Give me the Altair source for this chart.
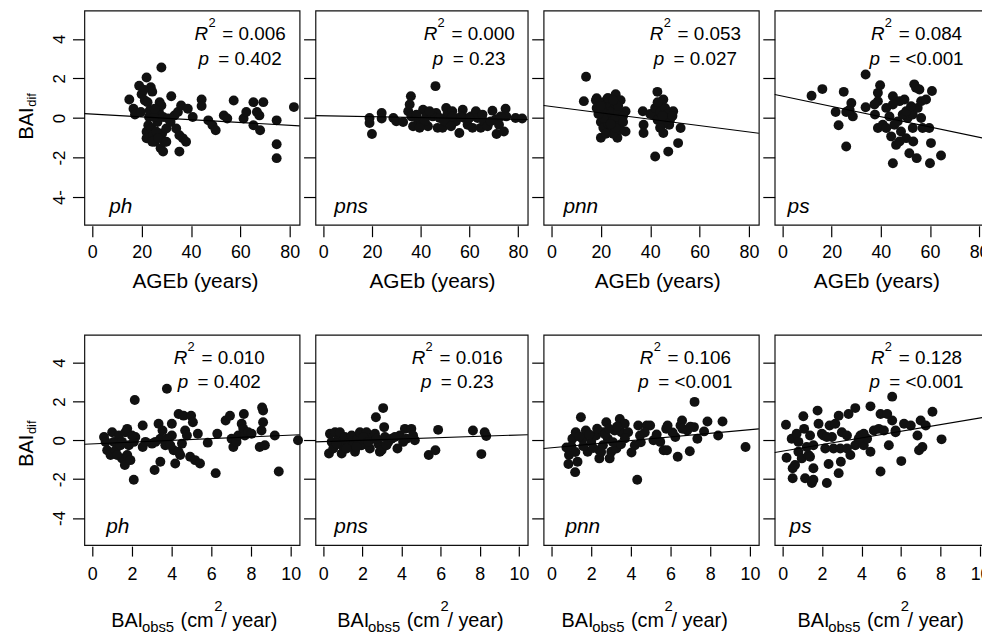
import altair as alt
import pandas as pd

FONT = "Liberation Sans"

# ---------------- values ----------------
species = ["ph", "pns", "pnn", "ps"]

# Row 1: BAIdif vs AGEb (years)
age_ph_x = [15, 16.7, 17.3, 19, 20, 22, 21.3, 22.4, 23.7, 24.3, 23, 22, 22, 22.7, 24, 24.7, 25.3, 26.4, 27, 27.3,
            28, 28, 28.7, 28.3, 27.7, 28.7, 29.3, 30, 30.7, 31.7, 32, 33.3, 34, 34.7, 35.3, 36, 36.7, 35.3, 38, 38.7,
            40.7, 44.3, 44.3, 47, 48.7, 50, 53.3, 54.7, 57.3, 61.3, 62.4, 65.3, 65.3, 66.7, 67.7, 68, 69.3, 74.7, 74.7, 74.7,
            81.7, 23.3, 25, 26, 24.3, 26.7, 25.3, 20.8, 19.7, 30]
age_ph_y = [0.93, 0.47, 0.17, 1.63, 1.2, 2.05, 0.88, 0.8, 1.55, 1.33, 0.05, -0.7, -1.03, -0.37, -0.53, -0.87, -1.2, -0.2, 0.3, 0.8,
            2.55, 0.63, 0.05, -0.78, -1.53, -1.7, -1.2, -0.53, -0.03, -0.2, 1.1, 0.13, -0.53, 0.3, -0.87, 0.63, -1.03, -1.7, -1.2, 0.47,
            0.05, 0.93, 0.6, -0.12, -0.37, -0.62, 0.13, -0.03, 0.88, -0.03, 0.3, 0.8, -0.37, 0.3, 0.13, -0.62, 0.8, -0.12, -1.33, -2.03,
            0.55, 0.38, 0.05, -0.7, -1.2, -1.03, 0.47, 1.43, 0.3, -1.2]

age_pns_x = [19, 19, 20, 24, 24, 28.8, 30, 32.8, 34.9, 36, 35.5, 36.2, 36.9, 38.9, 40.3, 41, 42.3, 43, 46.1, 46.4,
             45, 47, 49, 50.5, 51, 52, 53, 54.5, 55.9, 57.3, 58, 59.3, 60.7, 62.7, 63.4, 64.7, 66, 67.5, 69.5, 70.8,
             71.2, 72.2, 74.2, 74.9, 75.2, 79, 81.7, 38.3, 41.7, 47.8, 49.8, 52.5, 60, 61.3, 65.4, 68.8, 72.9, 39.6, 43.7, 53.2,
             56.6]
age_pns_y = [0, -0.25, -0.81, 0.25, -0.03, 0, -0.17, -0.2, 0.34, 1.1, 0.68, 0.08, -0.42, -0.08, -0.34, 0.42, 0.08, -0.42, 1.61, 0.25,
             0.08, -0.5, -0.5, 0.5, 0.17, -0.08, 0.34, -0.17, -0.76, 0.42, 0, -0.34, 0.08, 0.34, 0, -0.5, -0.17, -0.42, 0.37, -0.08,
             -0.81, -0.34, -0.68, 0.47, 0.08, 0, -0.03, 0.17, -0.17, 0, -0.17, -0.42, 0, -0.5, 0.17, -0.17, 0.08, -0.5, 0.34, 0.08,
             0.08]

age_pnn_x = [14, 13.1, 18.3, 18.3, 20, 22.7, 26, 26.7, 30, 30, 37, 37.3, 37.3, 41.3, 42.9, 42, 44, 44.7, 45.3, 45.3,
             46.7, 47.3, 47.7, 49.3, 51.3, 52.3,
             18, 19, 20, 20, 21, 21, 22, 22, 23, 23, 24, 24, 24, 25, 25, 25, 26, 26, 27, 27,
             28, 28, 29, 29, 22, 23, 21, 19, 26, 27, 24, 20, 25,
             40, 42, 43, 44, 45, 46, 46, 47, 48, 44, 43, 49, 45]
age_pnn_y = [2.08, 0.85, 1.0, 0.5, -1.0, 1.0, 1.2, -1.0, 0.34, -0.68, 0.34, -0.34, -0.76, 0.17, 1.32, -1.95, 0.68, 0.08, 0.93, -0.76,
             0.34, -1.7, -0.34, 0.34, -1.27, -0.51,
             0.9, 0.6, 0.3, -0.2, 0.8, -0.5, 0.1, 0.5, -0.3, 0.9, -0.7, 0.2, 0.6, -0.1, 0.4, -0.8, 0.7, 0, -0.4, 0.3,
             0.9, -0.6, 0.1, -0.2, -0.8, 1.0, 0.0, 0.2, -0.5, 0.6, -0.3, 0.6, 0.9,
             0.2, 0.5, -0.1, 0.3, -0.3, 0.5, 0.0, 0.2, -0.1, -0.5, 0.8, 0.1, 0.1]

age_ps_x = [11.8, 16.2, 24.9, 22.8, 21.6, 25.9, 25.9, 28, 28.6, 27.3, 33.8, 33.8, 37.6, 38.8, 38.8, 39.7, 38.8, 40.8, 42.2, 43.5,
            44.9, 44.2, 44.9, 46.2, 46.9, 47.6, 48.2, 49.6, 50.3, 50.9, 51.6, 53, 53.2, 53.6, 54.3, 54.6, 55, 55.7, 56.4, 57,
            56.4, 58.4, 59.7, 60, 60.4, 60.8, 64.5, 45.5, 48.9, 53, 44.9, 50.3, 42.2, 47.6, 52.3, 37.4]
age_ps_y = [1.12, 1.46, 1.32, -0.37, 0.3, -1.44, 0.3, 0.76, 0.08, 0.42, 2.2, 0.54, 0.17, -0.51, 1.27, 1.66, 0.85, -0.34, 0.51, 0.08,
            1.1, -0.93, -2.29, -1.36, -0.17, 0.85, -0.68, 0.93, -1.02, 0, -1.78, 0.17, -1.19, 1.7, 1.53, -2.03, 0.51, 1.44, 0, -0.51,
            0.85, 0.93, -0.51, -2.29, -1.27, 1.36, -1.9, -0.34, 0.17, -0.51, 0.68, 0.34, -0.51, -1.19, 0.59, 0.68]

# Row 2: BAIdif vs BAIobs5 (cm2/year)
bai_ph_x = [0.59, 0.75, 1.0, 0.92, 1.09, 1.17, 1.34, 1.42, 1.5, 1.67, 1.76, 1.64, 1.76, 1.84, 1.92, 2.09, 2.14, 2.17, 2.09, 2.54,
            2.54, 3.01, 3.14, 3.34, 3.43, 3.43, 3.54, 3.76, 3.68, 4.01, 4.01, 4.1, 4.18, 4.35, 4.43, 4.52, 4.6, 4.68, 4.77, 4.93,
            4.98, 5.07, 5.18, 5.32, 5.43, 5.82, 6.22, 6.3, 6.72, 6.94, 7.02, 7.11, 7.27, 7.36, 7.53, 7.61, 7.64, 7.69, 7.86, 8.03,
            8.44, 8.53, 8.56, 8.61, 8.61, 8.7, 9.2, 9.4, 10.37, 0.67, 1.25, 1.5, 2.0, 2.68, 3.18, 3.76, 3.93, 4.35]
bai_ph_y = [0.17, -0.51, 0.42, -0.76, -0.08, -0.51, 0.25, -0.25, -0.93, 0.42, 0.59, -1.27, -0.76, -0.25, -1.02, -2.03, 2.08, 0.17, -0.08, 0.76,
            -0.34, -0.17, -1.53, 0.85, -1.1, 0.08, 0.51, 2.66, -0.25, 0.85, 0.25, -0.51, -1.19, 1.36, -0.76, -0.17, 1.27, 0.51, 0.25, -0.85,
            1.27, 0.93, -1.02, 0.34, -1.19, -0.12, -1.69, 0.34, 1.02, 1.27, 0.08, -0.34, -0.08, 0.25, 0.85, 0.59, 1.36, 0.25, 0.42, 0.34,
            -0.34, 0.51, 1.69, 1.53, 0.93, -0.25, 0.25, -1.61, 0.0, -0.08, -0.76, -0.08, 0.25, -0.08, -0.08, 0.08, -0.25, -0.59]

bai_pns_x = [0.29, 0.34, 0.43, 0.6, 0.77, 0.85, 0.94, 0.94, 1.1, 1.28, 1.45, 1.53, 1.62, 1.75, 1.87, 1.96, 2.13, 2.21, 2.38, 2.47,
             2.64, 2.69, 2.81, 2.89, 2.98, 3.06, 3.11, 3.15, 3.32, 3.49, 3.79, 3.91, 4.17, 4.25, 4.5, 4.68, 4.59, 5.39, 5.73, 5.87,
             7.65, 8.08, 8.25, 8.33, 0.51, 0.68, 1.19, 1.7, 2.04, 2.3, 2.72, 3.23, 3.66, 4.08]
bai_pns_y = [-0.68, 0.34, -0.08, 0.42, 0.08, 0.42, -0.68, -0.25, 0.17, -0.17, 0.25, -0.25, -0.59, 0.08, 0.42, -0.25, 0.08, 0.42, -0.42, 0.08,
             0.34, 1.19, -0.17, -0.59, -0.51, 1.66, 0.68, 0.17, -0.08, 0.08, -0.42, 0.25, 0.59, 0.08, 0.59, 0, 0.25, -0.76, -0.51, 0.54,
             0.51, -0.71, 0.42, 0.22, -0.42, -0.17, -0.42, -0.34, 0.17, -0.08, 0.08, -0.25, 0.17, -0.08]

bai_pnn_x = [1.48, 0.75, 0.88, 0.85, 1.19, 1.31, 1.05, 1.22, 1.56, 1.73, 1.82, 2.0, 2.24, 2.41, 2.59, 2.76, 2.84, 3.01, 3.18,
             2.41, 2.59, 2.93, 3.27, 3.44, 3.52, 3.69, 3.86, 4.03, 4.2, 4.37, 4.32, 4.46, 4.8, 4.97, 5.14, 5.48, 5.65, 5.82, 5.78,
             5.85, 6.24, 6.36, 6.5, 6.58, 6.84, 6.97, 7.18, 7.21, 7.35, 7.69, 7.86, 8.4, 8.62, 9.78,
             1.0, 1.2, 1.4, 1.6, 1.9, 2.1, 2.3, 2.5, 2.7, 2.9, 3.1, 3.3, 3.5, 3.7, 4.5, 4.7, 5.3, 6.1, 6.6, 7.0]
bai_pnn_y = [1.19, -0.37, -0.76, -1.22, -1.64, -1.1, 0.08, 0.42, 0.08, 0.51, -0.59, -0.08, 0.25, -0.93, -0.25, 0.93, 0.08, -0.59, 0.51,
             -0.51, 0.42, -0.93, -0.42, 1.1, 0.42, 0.85, 0.42, -0.63, -0.25, 0.76, -2.03, 0.25, 0.76, 0.76, 0, -0.08, -0.51, -0.51, 0.59,
             0.76, 0.17, -0.85, 0.76, 1.02, 0.51, -0.56, 0.68, 1.98, 0.08, 0.46, 0.97, 0.25, 0.97, -0.34,
             -0.3, -0.6, 0.2, -0.3, 0.3, -0.4, 0.6, -0.6, 0.3, 0.6, -0.1, 0.7, -0.2, 0.1, -0.1, 0.4, 0.3, 0.4, 0.6, 0.7]

bai_ps_x = [0.17, 0.2, 0.46, 0.51, 0.51, 0.63, 0.71, 0.8, 0.97, 1.05, 1.09, 1.14, 1.22, 1.31, 1.39, 1.48, 1.56, 1.56, 1.56, 1.77,
            1.82, 1.99, 2.07, 2.16, 2.24, 2.33, 2.38, 2.5, 2.58, 2.67, 2.84, 2.84, 2.92, 2.95, 3.0, 3.34, 3.43, 3.68, 3.68, 3.94,
            4.11, 4.28, 4.45, 4.45, 4.62, 4.87, 4.96, 4.96, 5.3, 5.38, 5.55, 5.55, 5.72, 6.01, 6.15, 6.49, 6.83, 6.91, 6.99, 7.08,
            7.25, 7.59, 8.05, 4.11, 3.85, 3.26, 2.24, 0.8, 1.39, 3.26, 5.13, 5.72]
bai_ps_y = [0.8, -0.9, 0.08, -1.44, -1.95, -1.27, 0.34, -0.59, -0.93, 1.24, 0.59, -1.95, -0.34, -0.76, 0.25, -2.2, -2.03, -0.25, -1.44, 1.53,
            0.85, 0.34, 0.25, -0.42, -2.2, -1.22, 0.76, 0.17, -0.42, 0.85, -1.69, 1.27, -0.42, -1.1, 0.42, 1.36, -0.76, 1.66, -0.25, 0.25,
            -0.25, 0.08, -0.59, 1.75, 0.51, 0.59, -1.61, 1.36, 1.36, -0.25, 2.25, 1.02, 0.42, -1.07, 0.85, 0.76, 0.25, -0.51, 1.02, -0.34,
            0.76, 1.47, 0.05, 0.34, 0.08, 0.25, 0.17, -0.08, -0.85, -0.42, 0.51, 0.51]

# fitted lines: y at the left and right ends of the x range
age_line_y = [[0.22, -0.40], [0.12, -0.08], [0.63, -0.77], [1.19, -1.08]]
bai_line_y = [[-0.20, 0.29], [-0.08, 0.29], [-0.42, 0.59], [-0.63, 1.23]]

age_r2 = ["0.006", "0.000", "0.053", "0.084"]
age_p = ["0.402", "0.23", "0.027", "<0.001"]
bai_r2 = ["0.010", "0.016", "0.106", "0.128"]
bai_p = ["0.402", "0.23", "<0.001", "<0.001"]

x_ticks_age = [0, 20, 40, 60, 80]
x_ticks_bai = [0, 2, 4, 6, 8, 10]
y_ticks = [-4, -2, 0, 2, 4]

# ---------------- layout ----------------
W = [217, 214, 217, 216]
H = [216, 212]
XDOM = [[-3.2, 84], [-0.4, 10.45]]
YDOM = [-5.4, 5.43]

ANN_C = [[157, 155, 153, 143], [136, 143, 143, 143]]
ANN_Y = [[30, 55], [29, 54]]
LAB_X = [[25, 19, 20, 13], [22, 19, 22, 15]]
XT_AGE_C = [112, 118, 115, 103]
XT_BAI_S = [27, 22, 18, 23]

AW = {'=': 0.584, ' ': 0.278, '.': 0.278, '<': 0.584}


def tw(s, fs):
    return sum(AW.get(c, 0.556) for c in s) * fs


def txt(s, px, py, fs, italic=False, angle=None, align="left"):
    kw = dict(text=s, fontSize=fs, font=FONT, color="black", align=align, baseline="alphabetic")
    if italic:
        kw["fontStyle"] = "italic"
    if angle is not None:
        kw["angle"] = angle
    return alt.Chart(alt.Data(values=[{}])).mark_text(**kw).encode(x=alt.value(px), y=alt.value(py))


def panel(row, col, xs, ys, line_y, r2, pv):
    w, h = W[col], H[row]
    df = pd.DataFrame({"x": xs, "y": ys})
    xsc = alt.Scale(domain=XDOM[row], nice=False, zero=False)
    ysc = alt.Scale(domain=YDOM, nice=False, zero=False)
    xaxis = alt.Axis(values=x_ticks_age if row == 0 else x_ticks_bai, title=None, domain=False, grid=False,
                     offset=1, tickSize=11 if row == 0 else 10, tickColor="black", tickWidth=1.2,
                     labelFontSize=18, labelFont=FONT, labelColor="black", labelPadding=7 if row == 0 else 10,
                     labelFlush=False, labelOverlap=False, labelBaseline="top")
    yargs = dict(values=y_ticks, title=None, domain=False, grid=False, tickSize=12, tickColor="black",
                 tickWidth=1.2, labels=(col == 0), labelFontSize=17, labelFont=FONT, labelColor="black",
                 labelAngle=270, labelAlign="center", labelBaseline="alphabetic", labelPadding=8,
                 labelFlush=False, labelOverlap=False)
    if col == 0:
        if row == 0:
            yargs["labelExpr"] = "datum.value == -4 ? '4-' : (datum.value < 0 ? '-' + abs(datum.value) : datum.label)"
        else:
            yargs["labelExpr"] = "datum.value < 0 ? '-' + abs(datum.value) : datum.label"
    yaxis = alt.Axis(**yargs)

    pts = alt.Chart(df).mark_circle(size=100, color="#111", opacity=1).encode(
        x=alt.X("x:Q", scale=xsc, axis=xaxis), y=alt.Y("y:Q", scale=ysc, axis=yaxis))
    ln = alt.Chart(pd.DataFrame({"x": XDOM[row], "y": line_y})).mark_line(
        color="black", strokeWidth=1.1).encode(x="x:Q", y="y:Q")
    layers = [pts, ln]

    # R^2 and p annotations (centred, R and p italic, superscript 2)
    c = ANN_C[row][col]
    fs = 19
    main = "= " + r2
    L = c - (28 + tw(main, fs)) / 2
    yr, yp = ANN_Y[row]
    layers += [txt("R", L, yr, fs, italic=True),
               txt("2", L + 14, yr - 13, 13),
               txt(main, L + 28, yr, fs)]
    mp = "= " + pv
    Lp = c - (20 + tw(mp, fs)) / 2
    layers += [txt("p", Lp, yp, fs, italic=True),
               txt(mp, Lp + 20, yp, fs)]
    # species label
    layers.append(txt(species[col], LAB_X[row][col], h - 12, 21, italic=True))

    # x titles
    if row == 0:
        layers.append(txt("AGEb (years)", XT_AGE_C[col], h + 64, 21, align="center"))
    else:
        s = XT_BAI_S[col]
        yb = h + 83
        layers += [txt("BAI", s, yb, 20), txt("obs5", s + 31, yb + 5, 15), txt("(cm", s + 70, yb, 20),
                   txt("2", s + 104, yb - 17, 15), txt("/ year)", s + 111, yb, 20)]
    # y title
    if col == 0:
        yb0 = 130 if row == 0 else 133
        layers += [txt("BAI", -52, yb0, 20, angle=270), txt("dif", -49, yb0 - 33, 13, angle=270)]

    return alt.layer(*layers).properties(width=w, height=h)


rows = [
    [(age_ph_x, age_ph_y), (age_pns_x, age_pns_y), (age_pnn_x, age_pnn_y), (age_ps_x, age_ps_y)],
    [(bai_ph_x, bai_ph_y), (bai_pns_x, bai_pns_y), (bai_pnn_x, bai_pnn_y), (bai_ps_x, bai_ps_y)],
]
lines = [age_line_y, bai_line_y]
r2s = [age_r2, bai_r2]
ps = [age_p, bai_p]

panels = []
for r in range(2):
    for c in range(4):
        xs, ys = rows[r][c]
        panels.append(panel(r, c, xs, ys, lines[r][c], r2s[r][c], ps[r][c]))

# fixed-size canvas (982 x 628 inside the 8px page margin); what lies beyond is cut off,
# as in the reference figure
chart = alt.concat(*panels, columns=4, spacing={"row": 111, "column": 16}, bounds="flush").properties(
    autosize=alt.AutoSizeParams(type="none"),
    padding={"left": 77, "top": 0, "right": 905, "bottom": 628},
).configure_view(stroke="#111", strokeWidth=1.2)

chart.save("out.html", embed_options={"renderer": "svg", "actions": False})
